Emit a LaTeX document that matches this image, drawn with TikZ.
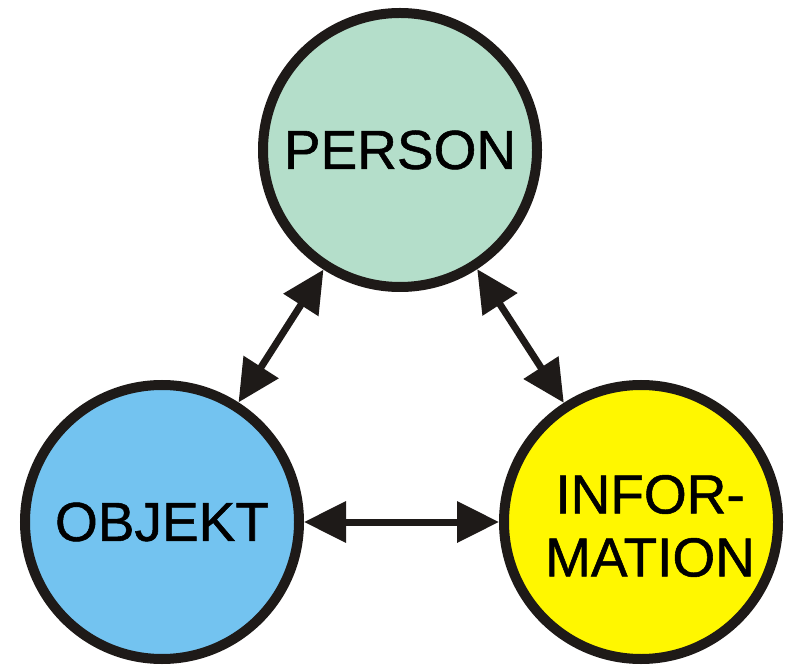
\documentclass[tikz,border=0pt]{standalone}
\usepackage{fontspec}
\setmainfont{Liberation Sans}
\newfontfamily\heavysans[FakeBold=1]{Liberation Sans}
\usetikzlibrary{arrows.meta}
\definecolor{ink}{HTML}{1E1A18}
\definecolor{mint}{HTML}{B4DECA}
\definecolor{sky}{HTML}{73C3F0}
\definecolor{lemon}{HTML}{FFF700}
\tikzset{
  bubble/.style={circle, draw=ink, line width=10pt, minimum size=274pt, inner sep=0pt,
    font=\heavysans\fontsize{55}{63}\selectfont, text=black, align=center},
  link/.style={draw=ink, line width=7pt,
    {Triangle[length=42pt,width=40pt]}-{Triangle[length=42pt,width=40pt]}}
}
\begin{document}
\begin{tikzpicture}[x=1pt,y=1pt]
\useasboundingbox (0,0) rectangle (786,664);
\node[bubble, fill=mint] (person) at (400,514) {PERSON};
\node[bubble, fill=sky] (objekt) at (162,142) {OBJEKT};
\node[bubble, fill=lemon,
  label={[font=\heavysans\fontsize{55}{63}\selectfont, align=center, xshift=9pt, yshift=-4pt]center:INFOR-\\MATION}]
  (info) at (641,142) {};
\draw[link] (person) -- (objekt);
\draw[link] (person) -- (info);
\draw[link] (objekt) -- (info);
\end{tikzpicture}
\end{document}
